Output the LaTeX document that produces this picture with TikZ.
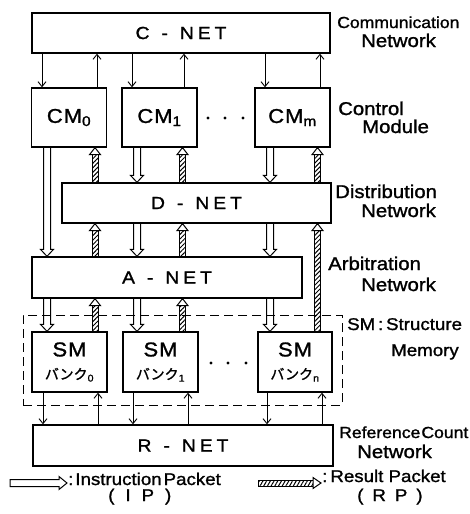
\documentclass[tikz,border=0pt]{standalone}
\usepackage{fontspec}
\setmainfont{Liberation Sans}[FakeStretch=1.1,FakeBold=1.3]
\newfontfamily\jpfont{Noto Sans CJK JP}[FakeBold=1.3]
\usetikzlibrary{arrows.meta,calc,patterns.meta}
\newcommand\netname[1]{#1\hspace{12pt}-\hspace{12pt}N\hspace{4pt}E\hspace{4pt}T}
\newcommand\rparrow[2]{\draw[rpshaft] #1 to #2; \draw[rphead] #1 to #2;}
\newcommand\rparrowR[2]{\draw[rpshaftR] #1 to #2; \draw[rpheadR] #1 to #2;}
\begin{document}
\begin{tikzpicture}[x=1pt,y=-1pt,
  box/.style={draw,line width=1.3pt,inner sep=0pt},
  netbox/.style={box,minimum height=40pt,font=\fontsize{17.5}{17.5}\selectfont},
  modbox/.style={box,minimum width=75pt,minimum height=59pt,font=\fontsize{20}{20}\selectfont},
  smbox/.style={box,minimum width=75pt,minimum height=60pt,align=center,font=\fontsize{20}{23}\selectfont},
  lbl/.style={anchor=base west,inner sep=0pt,font=\fontsize{17}{17}\selectfont},
  biglbl/.style={lbl,font=\fontsize{18.5}{18.5}\selectfont},
  ta/.style={line width=0.9pt,-{Straight Barb[length=5pt,width=8pt,line width=0.9pt]}},
  ipdown/.style={line width=1pt,to path={let \p1=(\tikztostart),\p2=(\tikztotarget) in
     (\x1-3.5pt,\y1) -- (\x1-3.5pt,\y2+7pt) -- (\x1-6.5pt,\y2+7pt) -- (\x1,\y2)
     -- (\x1+6.5pt,\y2+7pt) -- (\x1+3.5pt,\y2+7pt) -- (\x1+3.5pt,\y1)}},
  ipright/.style={line width=1pt,to path={let \p1=(\tikztostart),\p2=(\tikztotarget) in
     (\x1,\y1+3.5pt) -- (\x2-8pt,\y1+3.5pt) -- (\x2-8pt,\y1+6.5pt) -- (\x2,\y1)
     -- (\x2-8pt,\y1-6.5pt) -- (\x2-8pt,\y1-3.5pt) -- (\x1,\y1-3.5pt) -- cycle}},
  rpshaft/.style={line width=1pt,pattern={Lines[angle=45,distance=3.2pt,line width=1pt]},
     to path={let \p1=(\tikztostart),\p2=(\tikztotarget) in
     (\x1-3pt,\y1) rectangle (\x1+3pt,\y2-7pt)}},
  rphead/.style={line width=1pt,fill=white,
     to path={let \p1=(\tikztostart),\p2=(\tikztotarget) in
     (\x1-5.5pt,\y2-7pt) -- (\x1,\y2) -- (\x1+5.5pt,\y2-7pt) -- cycle}},
  rpshaftR/.style={line width=1pt,pattern={Lines[angle=60,distance=3.2pt,line width=1pt]},
     to path={let \p1=(\tikztostart),\p2=(\tikztotarget) in
     (\x1,\y1-3pt) rectangle (\x2-8pt,\y1+3pt)}},
  rpheadR/.style={line width=1pt,fill=white,
     to path={let \p1=(\tikztostart),\p2=(\tikztotarget) in
     (\x2-8pt,\y1-5.5pt) -- (\x2,\y1) -- (\x2-8pt,\y1+5.5pt) -- cycle}},
  dashbox/.style={draw,line width=1pt,dash pattern=on 9pt off 5pt,inner sep=0pt}
]
\useasboundingbox (0,0) rectangle (470,514);

% dashed structure memory group
\node[dashbox,minimum width=319pt,minimum height=90pt] (smgroup) at (182.5,360) {};

% boxes
\node[netbox,minimum width=298pt] (cnet) at (181,33) {\netname{C}};
\node[modbox] (cm0) at (69,117.5) {C\hspace{1pt}M\textsubscript{0}};
\node[modbox] (cm1) at (159.5,117.5) {C\hspace{1pt}M\textsubscript{1}};
\node[modbox] (cmm) at (292.5,117.5) {C\hspace{1pt}M\textsubscript{m}};
\node[netbox,minimum width=269pt] (dnet) at (196.5,203) {\netname{D}};
\node[netbox,minimum width=270pt,minimum height=41pt] (anet) at (167,277.5) {\netname{A}};
\node[smbox] (sm0) at (69.5,362) {S\hspace{1pt}M\\{\jpfont\fontsize{14}{14}\selectfont バンク}{\fontsize{14}{14}\selectfont\textsubscript{0}}};
\node[smbox] (sm1) at (160.5,362) {S\hspace{1pt}M\\{\jpfont\fontsize{14}{14}\selectfont バンク}{\fontsize{14}{14}\selectfont\textsubscript{1}}};
\node[smbox,minimum width=74pt] (smm) at (295,362) {S\hspace{1pt}M\\{\jpfont\fontsize{14}{14}\selectfont バンク}{\fontsize{14}{14}\selectfont\textsubscript{n}}};
\node[netbox,minimum width=300pt,minimum height=41pt] (rnet) at (183,445.5) {\netname{R}};

% ellipsis dots
\foreach \xx in {208,225,243} \fill (\xx,118) circle (1.7pt);
\foreach \xx in {211,228,246} \fill (\xx,363) circle (1.7pt);

% C-NET <-> CM
\draw[ta] (cnet.south -| 42,0) -- (cm0.north -| 42,0);
\draw[ta] (cm0.north -| 97,0) -- (cnet.south -| 97,0);
\draw[ta] (cnet.south -| 132,0) -- (cm1.north -| 132,0);
\draw[ta] (cm1.north -| 184,0) -- (cnet.south -| 184,0);
\draw[ta] (cnet.south -| 265,0) -- (cmm.north -| 265,0);
\draw[ta] (cmm.north -| 320,0) -- (cnet.south -| 320,0);

% CM -> D-NET / A-NET (instruction packets)
\draw[ipdown] (cm0.south -| 47,0) to (anet.north -| 47,0);
\draw[ipdown] (cm1.south -| 137,0) to (dnet.north -| 137,0);
\draw[ipdown] (cmm.south -| 270,0) to (dnet.north -| 270,0);
% D-NET -> CM (result packets)
\rparrow{(dnet.north -| 95,0)}{(cm0.south -| 95,0)}
\rparrow{(dnet.north -| 182.5,0)}{(cm1.south -| 182.5,0)}
\rparrow{(dnet.north -| 317.5,0)}{(cmm.south -| 317.5,0)}

% D-NET <-> A-NET
\draw[ipdown] (dnet.south -| 137,0) to (anet.north -| 137,0);
\draw[ipdown] (dnet.south -| 270,0) to (anet.north -| 270,0);
\rparrow{(anet.north -| 95,0)}{(dnet.south -| 95,0)}
\rparrow{(anet.north -| 182.5,0)}{(dnet.south -| 182.5,0)}
\rparrow{(smm.north -| 317.5,0)}{(dnet.south -| 317.5,0)}

% A-NET <-> SM
\draw[ipdown] (anet.south -| 47,0) to (sm0.north -| 47,0);
\draw[ipdown] (anet.south -| 137,0) to (sm1.north -| 137,0);
\draw[ipdown] (anet.south -| 270,0) to (smm.north -| 270,0);
\rparrow{(sm0.north -| 95,0)}{(anet.south -| 95,0)}
\rparrow{(sm1.north -| 182.5,0)}{(anet.south -| 182.5,0)}

% SM <-> R-NET
\draw[ta] (sm0.south -| 43,0) -- (rnet.north -| 43,0);
\draw[ta] (rnet.north -| 98,0) -- (sm0.south -| 98,0);
\draw[ta] (sm1.south -| 133,0) -- (rnet.north -| 133,0);
\draw[ta] (rnet.north -| 188,0) -- (sm1.south -| 188,0);
\draw[ta] (smm.south -| 267,0) -- (rnet.north -| 267,0);
\draw[ta] (rnet.north -| 322,0) -- (smm.south -| 322,0);

% side labels
\node[lbl,font=\fontsize{16}{16}\selectfont] (l1a) at (337,28) {Communication};
\node[biglbl] (l1b) at (361,47) {Network};
\node[biglbl] (l2a) at (338,115) {Control};
\node[biglbl] (l2b) at (362,133) {Module};
\node[biglbl] (l3a) at (335,198) {Distribution};
\node[biglbl] (l3b) at (361,217) {Network};
\node[biglbl] (l4a) at (328,270) {Arbitration};
\node[biglbl] (l4b) at (361,291) {Network};
\node[lbl] (l5a) at (347,330) {SM\,:\,Structure};
\node[lbl] (l5b) at (391,356) {Memory};
\node[lbl,font=\fontsize{16}{16}\selectfont] (l6a) at (339,438) {Reference\hspace{1pt}Count};
\node[biglbl] (l6b) at (357,458) {Network};

% legend
\coordinate (ipA) at (10,483);
\coordinate (ipB) at (67,483);
\draw[ipright] (ipA) to (ipB);
\node[lbl] (ipt) at (68,485) {:\hspace{2pt}Instruction\hspace{2pt}Packet};
\node[lbl] (ipabbr) at (108,501) {(\hspace{11pt}I\hspace{11pt}P\hspace{11pt})};
\coordinate (rpA) at (258,483);
\coordinate (rpB) at (321,483);
\rparrowR{(rpA)}{(rpB)}
\node[lbl] (rpt) at (322,482) {:\hspace{3pt}Result Packet};
\node[lbl] (rpabbr) at (357,501) {(\hspace{9pt}R\hspace{9pt}P\hspace{9pt})};
\end{tikzpicture}
\end{document}
